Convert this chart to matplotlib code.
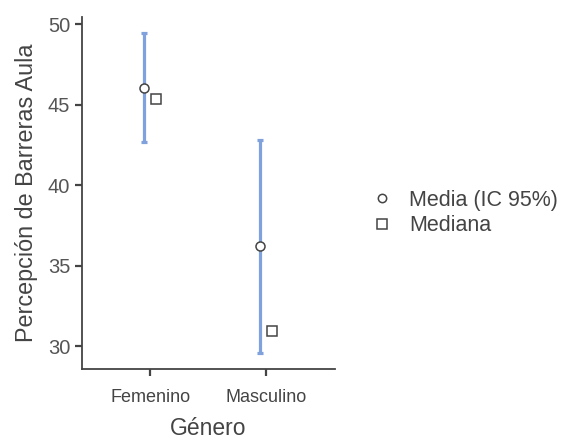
import numpy as np
import matplotlib
matplotlib.use("Agg")
import matplotlib.pyplot as plt
from matplotlib.lines import Line2D

plt.rcParams['font.family'] = ['Liberation Sans', 'DejaVu Sans']

groups = ["Femenino", "Masculino"]
mean = [46.04, 36.22]
ci_low = [42.70, 29.55]
ci_high = [49.44, 42.80]
median = [45.37, 30.93]

blue = '#7fa1dc'
grey = '#444444'

fig = plt.figure(figsize=(5.7, 4.42), dpi=100)
ax = fig.add_axes([0.144, 0.165, 0.444, 0.7965])

x = np.arange(1, len(groups) + 1)
dodge = 0.055

mean = np.array(mean)
yerr = [mean - np.array(ci_low), np.array(ci_high) - mean]
ax.errorbar(x - dodge, mean, yerr=yerr, fmt='none', ecolor=blue,
            elinewidth=2.3, capsize=2, capthick=2.3, zorder=2)
ax.plot(x - dodge, mean, 'o', ms=6.5, mfc='white', mec=grey, mew=1.1, zorder=3)
ax.plot(x + dodge, median, 's', ms=7, mfc='white', mec=grey, mew=1.1, zorder=3)

ax.set_xlim(0.414, 2.595)
ax.set_ylim(28.57, 50.45)
ax.set_xticks(x)
ax.set_xticklabels(groups, fontsize=13, color='#555555')
ax.set_yticks([30, 35, 40, 45, 50])
ax.tick_params(axis='y', labelsize=14.5, colors=grey, labelcolor='#555555',
               length=5, width=1.6)
ax.tick_params(axis='x', colors=grey, length=5, width=1.6, pad=9)

for s in ['top', 'right']:
    ax.spines[s].set_visible(False)
for s in ['left', 'bottom']:
    ax.spines[s].set_color(grey)
    ax.spines[s].set_linewidth(1.3)

ax.set_xlabel("Género", fontsize=16.5, color='#444444', labelpad=8)
ax.set_ylabel("Percepción de Barreras Aula", fontsize=16.8, color='#444444', labelpad=7)

handles = [
    Line2D([], [], marker='o', ls='none', ms=6, mfc='white', mec=grey, mew=1.1),
    Line2D([], [], marker='s', ls='none', ms=6.5, mfc='white', mec=grey, mew=1.1),
]
fig.legend(handles, ["Media (IC 95%)", "Mediana"], loc='center left',
           bbox_to_anchor=(0.625, 0.518), frameon=False, fontsize=15.5,
           handlelength=0.6, handletextpad=0.95, labelspacing=0.2,
           labelcolor='#444444')

fig.savefig("out.png", dpi=100)
